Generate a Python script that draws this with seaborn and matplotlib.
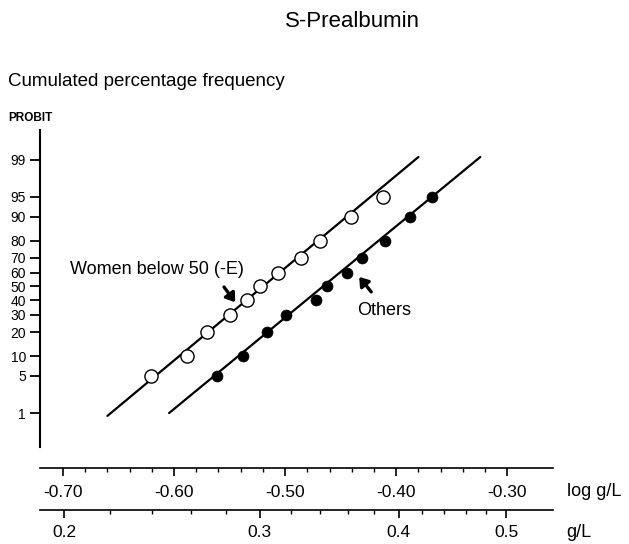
import numpy as np
import pandas as pd
import seaborn as sns
import matplotlib.pyplot as plt
from matplotlib.ticker import FixedLocator
from statistics import NormalDist

# Data (x in log g/L, y as cumulated percentage)
pct_levels = [5, 10, 20, 30, 40, 50, 60, 70, 80, 90, 95]
women_log = [-0.621, -0.588, -0.570, -0.550, -0.534, -0.523, -0.506, -0.486, -0.469, -0.441, -0.412]
others_log = [-0.561, -0.538, -0.516, -0.499, -0.472, -0.462, -0.444, -0.431, -0.410, -0.388, -0.368]

# fitted lines (end points)
women_fit_log = [-0.660, -0.380]
women_fit_pct = [0.87, 99.13]
others_fit_log = [-0.6045, -0.3243]
others_fit_pct = [1.0, 99.13]

# axes ticks
probit_ticks = [1, 5, 10, 20, 30, 40, 50, 60, 70, 80, 90, 95, 99]
log_ticks = [-0.70, -0.60, -0.50, -0.40, -0.30]
log_labels = ['-0.70', '-0.60', '-0.50', '-0.40', '-0.30']
gl_ticks = [0.2, 0.3, 0.4, 0.5]
gl_labels = ['0.2', '0.3', '0.4', '0.5']


def probit(p):
    # percentage -> probit units (5 + normal quantile)
    return np.array([5 + NormalDist().inv_cdf(v / 100.0) for v in p])


df = pd.concat([
    pd.DataFrame({'log': women_log, 'probit': probit(pct_levels), 'group': 'women'}),
    pd.DataFrame({'log': others_log, 'probit': probit(pct_levels), 'group': 'others'}),
])

sns.set_style("white")
plt.rcParams['font.family'] = ['Liberation Sans', 'DejaVu Sans']
plt.rcParams['text.color'] = 'black'
plt.rcParams['xtick.color'] = 'black'
plt.rcParams['ytick.color'] = 'black'
plt.rcParams['axes.edgecolor'] = 'black'

fig = plt.figure(figsize=(6.29, 5.44), dpi=100)
ax = fig.add_axes([0.0636, 0.1783, 0.816, 0.583])

# fitted lines
sns.lineplot(x=women_fit_log, y=probit(women_fit_pct), color='black', lw=1.6, ax=ax,
             estimator=None, sort=False)
sns.lineplot(x=others_fit_log, y=probit(others_fit_pct), color='black', lw=1.6, ax=ax,
             estimator=None, sort=False)

# points
sns.scatterplot(data=df[df['group'] == 'women'], x='log', y='probit', ax=ax,
                color='white', edgecolor='black', linewidth=1.0, s=90, zorder=3)
sns.scatterplot(data=df[df['group'] == 'others'], x='log', y='probit', ax=ax,
                color='black', edgecolor='black', linewidth=0.5, s=62, zorder=3)

ax.set_xlim(-0.7207, -0.2586)
ax.set_ylim(2.05, 7.877)
ax.set_xlabel('')
ax.set_ylabel('')

for side in ['top', 'right', 'bottom']:
    ax.spines[side].set_visible(False)
ax.spines['left'].set_linewidth(1.5)
ax.set_xticks([])

ax.set_yticks(probit(probit_ticks), labels=[str(t) for t in probit_ticks])
ax.tick_params(axis='y', direction='out', length=7, width=1.3, labelsize=10,
               pad=3, left=True)

# log g/L axis
sec1 = ax.secondary_xaxis(-0.066)
sec1.set_xticks(log_ticks, labels=log_labels)
sec1.xaxis.set_minor_locator(FixedLocator([-0.68, -0.66, -0.64, -0.62, -0.58, -0.56, -0.54,
                                           -0.52, -0.48, -0.46, -0.44, -0.42, -0.38, -0.36,
                                           -0.34, -0.32]))
sec1.spines['bottom'].set_linewidth(1.2)
sec1.tick_params(which='major', direction='out', length=6, width=1.2, labelsize=12.5, pad=6)
sec1.tick_params(which='minor', direction='out', length=3, width=1.0)

# g/L axis
sec2 = ax.secondary_xaxis(-0.199, functions=(lambda x: 10 ** x,
                                             lambda x: np.log10(np.clip(x, 1e-6, None))))
sec2.set_xticks(gl_ticks, labels=gl_labels)
sec2.xaxis.set_minor_locator(FixedLocator([0.22, 0.24, 0.26, 0.28, 0.32, 0.34, 0.36, 0.38,
                                           0.42, 0.44, 0.46, 0.48]))
sec2.spines['bottom'].set_linewidth(1.2)
sec2.tick_params(which='major', direction='out', length=6, width=1.2, labelsize=12.5, pad=5)
sec2.tick_params(which='minor', direction='out', length=3, width=1.0)

# annotations
ax.text(-0.6937, 5.32, 'Women below 50 (-E)', fontsize=13, va='center', ha='left')
ax.annotate('', xy=(-0.545, 4.71), xytext=(-0.555, 4.99),
            arrowprops=dict(arrowstyle='-|>,head_length=0.5,head_width=0.35', lw=2.4,
                            color='black', shrinkA=0, shrinkB=0))
ax.text(-0.435, 4.55, 'Others', fontsize=13, va='center', ha='left')
ax.annotate('', xy=(-0.4333, 5.175), xytext=(-0.4225, 4.90),
            arrowprops=dict(arrowstyle='-|>,head_length=0.5,head_width=0.35', lw=2.4,
                            color='black', shrinkA=0, shrinkB=0))

fig.text(0.5596, 0.9596, 'S-Prealbumin', fontsize=16, ha='center', va='center')
fig.text(0.0127, 0.851, 'Cumulated percentage frequency', fontsize=13.5, ha='left', va='center')
fig.text(0.0127, 0.783, 'PROBIT', fontsize=8.5, fontweight='bold', ha='left', va='center')
fig.text(0.901, 0.0956, 'log g/L', fontsize=13, ha='left', va='center')
fig.text(0.901, 0.022, 'g/L', fontsize=13, ha='left', va='center')

fig.savefig('out.png', dpi=100, facecolor='white')
